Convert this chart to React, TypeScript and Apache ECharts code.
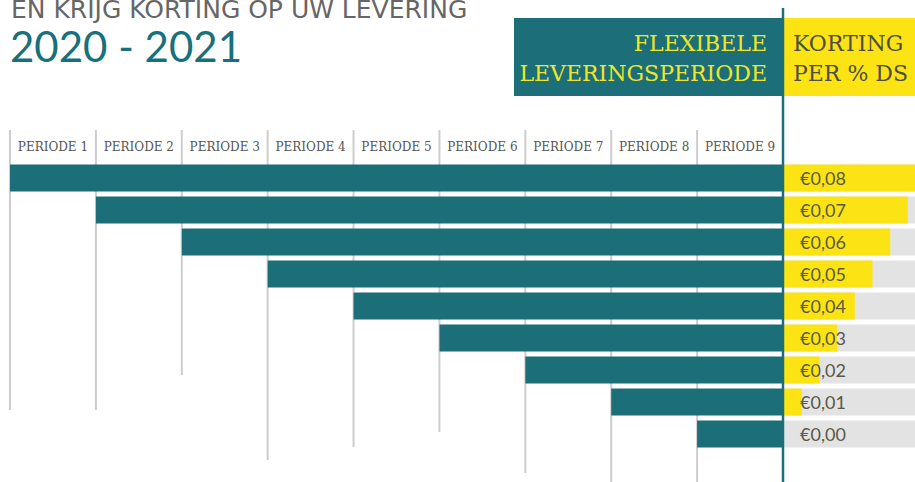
import React, { useEffect, useRef } from "react";
import * as echarts from "echarts";

// ---- data ----
const periodLabels = [
  "PERIODE 1", "PERIODE 2", "PERIODE 3", "PERIODE 4", "PERIODE 5",
  "PERIODE 6", "PERIODE 7", "PERIODE 8", "PERIODE 9",
];
const startPeriods = [1, 2, 3, 4, 5, 6, 7, 8, 9];
const endPeriod = 9;
const discounts = [0.08, 0.07, 0.06, 0.05, 0.04, 0.03, 0.02, 0.01, 0.0];
// where each grey period divider ends (in row units, decoration)
const dividerEndRows = [7.25, 7.25, 6.16, 8.81, 8.41, 7.94, 9.22, 10.5, 10.5];
const dividerTopRow = -1.5;

const titleLine1 = "EN KRIJG KORTING OP UW LEVERING";
const titleLine2 = "2020 - 2021";
const headerLeft = ["FLEXIBELE", "LEVERINGSPERIODE"];
const headerRight = ["KORTING", "PER % DS"];

const TEAL = "#1c6f78";
const YELLOW = "#fce414";

export default function App() {
  const ref = useRef<HTMLDivElement>(null);

  useEffect(() => {
    if (!ref.current) return;
    const chart = echarts.init(ref.current, undefined, { renderer: "svg" });
    const rowNames = startPeriods.map((p) => "Rij " + p);

    chart.setOption({
      animation: false,
      backgroundColor: "#ffffff",
      grid: [
        { left: 10, top: 162, width: 773, height: 288 },
        { left: 784, top: 162, width: 131, height: 288 },
      ],
      xAxis: [
        { type: "value", gridIndex: 0, min: 0, max: 9, show: false },
        {
          type: "category",
          gridIndex: 0,
          position: "top",
          data: periodLabels,
          axisLine: { show: false },
          axisTick: { show: false },
          splitLine: { show: false },
          axisLabel: {
            interval: 0,
            fontFamily: "DejaVu Serif",
            fontSize: 12,
            color: "#555555",
            margin: 9,
          },
        },
        { type: "value", gridIndex: 1, min: 0, max: 0.074, show: false },
      ],
      yAxis: [
        { type: "category", gridIndex: 0, inverse: true, data: rowNames, show: false },
        { type: "value", gridIndex: 0, inverse: true, min: -0.5, max: 8.5, show: false },
        { type: "category", gridIndex: 1, inverse: true, data: rowNames, show: false },
      ],
      series: [
        {
          type: "custom",
          xAxisIndex: 0,
          yAxisIndex: 1,
          silent: true,
          clip: false,
          z: 1,
          encode: { x: 0, y: [1, 2] },
          data: dividerEndRows.map((e, i) => [startPeriods[i] - 1, dividerTopRow, e]),
          renderItem: (params: any, api: any) => {
            const p1 = api.coord([api.value(0), api.value(1)]);
            const p2 = api.coord([api.value(0), api.value(2)]);
            return {
              type: "line",
              shape: { x1: p1[0], y1: p1[1], x2: p2[0], y2: p2[1] },
              style: { stroke: "#cdcdcd", lineWidth: 2 },
            };
          },
        },
        {
          type: "bar",
          stack: "p",
          xAxisIndex: 0,
          yAxisIndex: 0,
          barWidth: 27,
          silent: true,
          z: 2,
          itemStyle: { color: "transparent" },
          data: startPeriods.map((s) => s - 1),
        },
        {
          type: "bar",
          stack: "p",
          xAxisIndex: 0,
          yAxisIndex: 0,
          barWidth: 27,
          z: 2,
          itemStyle: { color: TEAL },
          data: startPeriods.map((s) => endPeriod - (s - 1)),
        },
        {
          type: "bar",
          xAxisIndex: 2,
          yAxisIndex: 2,
          barWidth: 27,
          z: 2,
          showBackground: true,
          backgroundStyle: { color: "#e3e3e3" },
          itemStyle: { color: YELLOW },
          data: discounts,
          label: {
            show: true,
            position: [16, "50%"],
            verticalAlign: "middle",
            fontFamily: "Lato",
            fontSize: 18,
            color: "#5a5845",
            formatter: (p: any) => "€" + Number(p.value).toFixed(2).replace(".", ","),
          },
        },
      ],
      graphic: [
        {
          type: "text",
          z: 50,
          style: {
            x: 11,
            y: 0,
            text: titleLine1,
            fontFamily: "DejaVu Sans",
            fontSize: 25,
            lineHeight: 18,
            fill: "#666666",
            verticalAlign: "top",
          },
        },
        {
          type: "text",
          z: 50,
          style: {
            x: 10,
            y: 46,
            text: titleLine2,
            fontFamily: "Lato",
            fontSize: 42,
            fill: "#17707a",
            verticalAlign: "middle",
          },
        },
        {
          type: "rect",
          z: 40,
          shape: { x: 514, y: 18, width: 269, height: 78 },
          style: { fill: TEAL },
        },
        {
          type: "rect",
          z: 40,
          shape: { x: 784, y: 18, width: 131, height: 78 },
          style: { fill: YELLOW },
        },
        ...headerLeft.map((t, i) => ({
          type: "text",
          z: 50,
          style: {
            x: 767,
            y: 43 + i * 30.5,
            text: t,
            align: "right",
            verticalAlign: "middle",
            fontFamily: "DejaVu Serif",
            fontSize: 22,
            fill: "#eee62a",
          },
        })),
        ...headerRight.map((t, i) => ({
          type: "text",
          z: 50,
          style: {
            x: 793,
            y: 43 + i * 30.5,
            text: t,
            align: "left",
            verticalAlign: "middle",
            fontFamily: "DejaVu Serif",
            fontSize: 22,
            fill: "#4f4e44",
          },
        })),
        {
          type: "line",
          z: 60,
          shape: { x1: 783, y1: 8, x2: 783, y2: 482 },
          style: { stroke: TEAL, lineWidth: 2.5 },
        },
      ],
    });

    return () => chart.dispose();
  }, []);

  return (
    <div
      ref={ref}
      style={{ position: "fixed", left: 0, top: 0, width: 915, height: 482, background: "#fff" }}
    />
  );
}
